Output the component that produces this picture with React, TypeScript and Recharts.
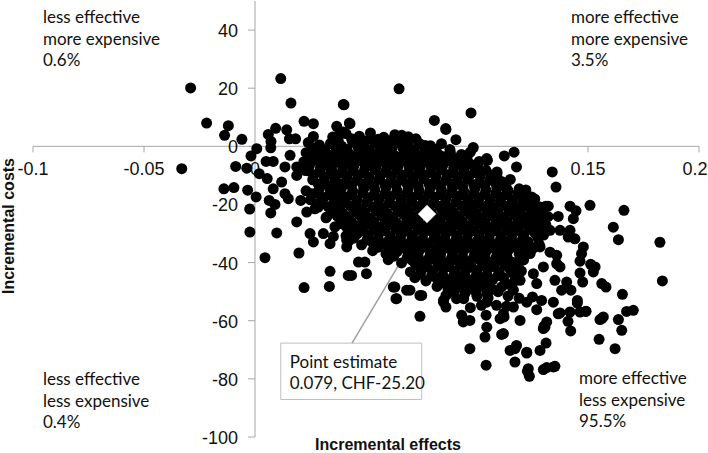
import React from 'react';
import { ScatterChart, Scatter, XAxis, YAxis, ReferenceLine, ReferenceArea } from 'recharts';

// ---- tick labels ----
const xTicks = [-0.1, -0.05, 0, 0.05, 0.1, 0.15, 0.2];
const yTicks = [40, 20, 0, -20, -40, -60, -80, -100];

// ---- quadrant texts ----
const quadTopLeft = ['less effective', 'more expensive', '0.6%'];
const quadTopRight = ['more effective', 'more expensive', '3.5%'];
const quadBottomLeft = ['less effective', 'less expensive', '0.4%'];
const quadBottomRight = ['more effective', 'less expensive', '95.5%'];

// ---- point estimate ----
const pointEstimate = [[0.0775, -23.3]];
const estimateLines = ['Point estimate', '0.079, CHF-25.20'];

// ---- bootstrap replicates [incremental effect, incremental cost] ----
const outerLeft = [
  [-0.029, 20.1], [-0.0218, 8.0], [-0.012, 7.1], [-0.0137, 3.8], [-0.0059, 2.4], [-0.033, -7.7], [-0.0087, -6.9],
  [-0.014, -14.6], [-0.0095, -14.2], [-0.0033, -15.1], [-0.0024, -21.6], [-0.0023, -29.5], [0.0008, -0.8],
  [-0.0018, -3.3], [-0.0037, -7.5], [0.0005, -17.4], [0.0045, -38.3], [0.0098, -29.8], [0.0116, 23.3],
  [0.0162, 14.9], [0.0398, 14.4], [0.006, 4.1], [0.0093, 6.2], [0.0072, 1.7], [0.0143, 5.7], [0.0155, 2.6],
  [0.0183, 2.6], [0.0221, 8.6], [0.0263, 7.8], [0.0263, 3.4], [0.0368, 6.9], [0.0398, 4.9], [0.0428, 7.8],
  [0.0071, -0.5], [0.005, -5.2], [0.0082, -5.2], [0.0019, -9.4], [0.0055, -11.1], [0.0082, -14.6], [0.0064, -18.6],
  [0.0071, -22.9], [0.009, -20.0], [0.012, -12.3], [0.0135, -7.1], [0.0158, -3.1], [0.0135, -16.3], [0.015, -18.0],
  [0.0188, -7.1], [0.0188, -10.0], [0.0225, -8.3], [0.0245, -2.3], [0.0278, -4.8], [0.0308, -2.5], [0.0206, -18.6],
  [0.0188, -26.0], [0.0255, -16.3], [0.0285, -20.9], [0.0233, -22.6], [0.0248, -30.0], [0.0263, -32.9],
  [0.0308, -30.0], [0.0338, -33.5], [0.0198, -36.7], [0.0338, -43.0], [0.0221, -48.6], [0.0335, -48.2],
  [0.042, -44.4], [0.0345, -8.3], [0.0368, -3.7], [0.0308, -12.8], [0.0353, -17.4], [0.0323, -24.3], [0.039, -26.6],
  [0.0398, -18.6], [0.0413, -10.6], [0.0405, -1.4], [0.0368, -14.0], [0.0413, -32.3], [0.0353, -31.0],
];

const outerTop = [
  [0.0649, 19.8], [0.0401, 14.3], [0.0425, 8.0], [0.0973, 11.5], [0.0808, 8.9], [0.086, 5.8], [0.0905, 2.3],
  [0.0661, 3.8], [0.0983, -0.4], [0.1167, -2.0], [0.1123, -3.3], [0.1178, -7.1], [0.1044, -4.2], [0.0878, -1.1],
  [0.0725, 2.6], [0.0766, 0.3], [0.0533, 2.1], [0.0578, 2.1], [0.0473, 2.6], [0.0383, 4.9], [0.1088, -10.0],
  [0.1133, -14.6], [0.1246, -17.4], [0.1201, -16.3], [0.1269, -22.0], [0.0968, -19.7], [0.0435, -44.4],
  [0.0466, -39.8], [0.0495, -39.8], [0.0502, -43.8], [0.063, -48.4], [0.0698, -49.5], [0.0638, -52.4],
  [0.0743, -51.3], [0.0849, -53.0], [0.0413, -34.6], [0.0413, -27.8], [0.0859, 6.1], [0.109, -9.4], [0.1047, -4.8],
  [0.1, -7.1], [0.1227, -17.4], [0.1257, -18.6], [0.1287, -23.2],
];

const outerRight = [
  [0.1339, -8.8], [0.1356, -14.0], [0.1509, -20.3], [0.1419, -20.6], [0.1446, -22.2], [0.1662, -22.0],
  [0.1366, -24.1], [0.1614, -27.8], [0.1637, -32.1], [0.1824, -33.0], [0.1835, -46.3], [0.1479, -34.6],
  [0.1464, -39.5], [0.1512, -40.6], [0.1532, -41.5], [0.1524, -43.2], [0.1562, -47.2], [0.1581, -48.4],
  [0.1655, -50.9], [0.1464, -43.6], [0.1476, -46.7], [0.1423, -49.5], [0.1452, -53.0], [0.1491, -56.7],
  [0.1419, -57.0], [0.141, -60.2], [0.1422, -63.5], [0.1569, -58.7], [0.1554, -59.6], [0.1637, -59.6],
  [0.1652, -63.3], [0.1674, -56.8], [0.1704, -56.4], [0.155, -66.4], [0.1622, -69.6], [0.1366, -57.6],
  [0.1314, -60.4], [0.1299, -62.7], [0.1311, -67.7], [0.1284, -70.2], [0.1224, -70.8], [0.1171, -69.6],
  [0.1171, -74.2], [0.1344, -75.9], [0.1299, -76.8], [0.1119, -64.4], [0.1194, -59.9], [0.1291, -53.0],
  [0.1344, -53.6], [0.1381, -49.5], [0.1351, -46.1], [0.1404, -46.7], [0.1471, -36.9], [0.1411, -31.2],
  [0.1441, -31.8], [0.1374, -28.9], [0.1329, -28.9], [0.1284, -27.8], [0.1254, -18.6], [0.1284, -20.9],
  [0.1321, -20.6], [0.1254, -25.5], [0.1359, -40.4], [0.1374, -41.5], [0.1299, -41.5], [0.1254, -43.8],
  [0.1269, -47.2], [0.1194, -46.1], [0.1164, -49.5], [0.1224, -53.6], [0.1164, -55.3], [0.1119, -57.6],
  [0.1284, -34.6], [0.1329, -36.4], [0.1239, -36.9], [0.1194, -39.2], [0.1359, -37.5], [0.1419, -28.9],
  [0.1434, -24.9],
];

const outerBottom = [
  [0.0743, -58.5], [0.0968, -69.6], [0.1041, -75.3], [0.1231, -76.5], [0.1236, -79.1], [0.1314, -76.1],
  [0.1351, -75.7], [0.1149, -70.2], [0.1178, -68.5], [0.1224, -71.1], [0.1111, -64.7], [0.1036, -65.6],
  [0.1044, -62.2], [0.1041, -58.1], [0.0931, -58.1], [0.0968, -59.9], [0.0938, -60.4], [0.1104, -59.3],
  [0.1122, -58.7], [0.1306, -62.2], [0.1562, -59.3], [0.086, -55.3], [0.0751, -51.3], [0.0635, -52.4],
  [0.0623, -48.4], [0.0683, -49.5], [0.0849, -53.6], [0.0908, -52.4], [0.1044, -53.6], [0.1088, -54.7],
  [0.1133, -55.0], [0.1269, -56.2], [0.1374, -57.3], [0.1464, -57.0], [0.1227, -77.4], [0.1302, -61.9],
  [0.1452, -53.9], [0.149, -56.8],
];

const coreUpper = [
  [0.035, 3.2], [0.041, 4.4], [0.047, 3.5], [0.052, 4.6], [0.058, 3.1], [0.063, 4.0], [0.069, 3.3],
  [0.024, 1.3], [0.029, 0.5], [0.034, 1.0], [0.039, 0.1], [0.044, 1.4], [0.049, 0.6], [0.054, 1.1], [0.059, 0.3],
  [0.064, 1.2], [0.069, 0.4], [0.074, 1.0], [0.079, 0.2], [0.084, 0.9],
  [0.023, -2.2], [0.028, -1.6], [0.033, -2.9], [0.038, -2.1], [0.043, -3.0], [0.048, -1.8], [0.053, -2.6],
  [0.058, -2.0], [0.063, -3.2], [0.068, -1.9], [0.073, -2.7], [0.078, -2.2], [0.083, -3.0], [0.088, -2.1],
  [0.093, -2.8], [0.097, -2.0],
  [0.022, -5.3], [0.027, -4.8], [0.032, -6.0], [0.037, -5.2], [0.042, -5.9], [0.047, -4.9], [0.052, -5.7],
  [0.057, -5.1], [0.062, -6.2], [0.067, -5.0], [0.072, -5.8], [0.077, -5.3], [0.082, -6.0], [0.087, -4.9],
  [0.092, -5.6], [0.097, -6.1], [0.101, -5.2],
  [0.024, -8.4], [0.029, -8.9], [0.034, -7.9], [0.039, -9.1], [0.044, -8.3], [0.049, -9.0], [0.054, -8.1],
  [0.059, -8.8], [0.064, -8.2], [0.069, -9.3], [0.074, -8.4], [0.079, -8.9], [0.084, -8.0], [0.089, -9.1],
  [0.094, -8.5], [0.099, -9.0], [0.104, -8.2], [0.109, -8.8],
  [0.026, -11.5], [0.031, -12.0], [0.036, -11.1], [0.041, -12.4], [0.046, -11.6], [0.051, -12.1], [0.056, -11.3],
  [0.061, -12.2], [0.066, -11.4], [0.071, -12.0], [0.076, -11.1], [0.081, -12.3], [0.086, -11.6], [0.091, -12.0],
  [0.096, -11.2], [0.101, -12.4], [0.106, -11.5], [0.111, -12.1], [0.115, -11.4],
];

const coreMiddle = [
  [0.023, -15.3], [0.029, -14.6], [0.034, -15.1], [0.039, -14.3], [0.044, -15.4], [0.049, -14.5], [0.054, -15.0],
  [0.059, -14.2], [0.064, -15.2], [0.069, -14.7], [0.074, -15.3], [0.079, -14.4], [0.084, -15.0], [0.089, -14.3],
  [0.094, -15.4], [0.099, -14.6], [0.104, -15.1], [0.109, -14.4], [0.114, -15.2], [0.119, -14.6], [0.122, -15.0],
  [0.025, -18.4], [0.031, -17.6], [0.036, -18.2], [0.041, -17.4], [0.046, -18.5], [0.051, -17.7], [0.056, -18.1],
  [0.061, -17.3], [0.066, -18.3], [0.071, -17.6], [0.076, -18.4], [0.081, -17.5], [0.086, -18.0], [0.091, -17.2],
  [0.096, -18.3], [0.101, -17.7], [0.106, -18.2], [0.111, -17.4], [0.116, -18.4], [0.121, -17.6], [0.126, -18.1],
  [0.027, -21.5], [0.033, -20.8], [0.038, -21.3], [0.043, -20.4], [0.048, -21.6], [0.053, -20.9], [0.058, -21.2],
  [0.063, -20.5], [0.068, -21.4], [0.073, -20.7], [0.078, -21.5], [0.083, -20.6], [0.088, -21.1], [0.093, -20.4],
  [0.098, -21.6], [0.103, -20.8], [0.108, -21.3], [0.113, -20.5], [0.118, -21.4], [0.123, -20.7], [0.128, -21.2],
  [0.131, -20.6],
  [0.032, -24.6], [0.037, -23.9], [0.042, -24.4], [0.047, -23.6], [0.052, -24.7], [0.057, -23.8], [0.062, -24.3],
  [0.067, -23.5], [0.072, -24.5], [0.077, -23.7], [0.082, -24.6], [0.087, -23.8], [0.092, -24.2], [0.097, -23.5],
  [0.102, -24.6], [0.107, -23.9], [0.112, -24.4], [0.117, -23.6], [0.122, -24.5], [0.127, -23.8], [0.132, -24.2],
  [0.036, -27.7], [0.041, -27.0], [0.046, -27.5], [0.051, -26.7], [0.056, -27.8], [0.061, -27.0], [0.066, -27.4],
  [0.071, -26.6], [0.076, -27.6], [0.081, -26.9], [0.086, -27.7], [0.091, -26.8], [0.096, -27.3], [0.101, -26.6],
  [0.106, -27.8], [0.111, -27.0], [0.116, -27.5], [0.121, -26.7], [0.126, -27.6], [0.131, -27.0],
  [0.041, -30.8], [0.046, -30.1], [0.051, -30.6], [0.056, -29.7], [0.061, -30.9], [0.066, -30.0], [0.071, -30.5],
  [0.076, -29.8], [0.081, -30.7], [0.086, -29.9], [0.091, -30.8], [0.096, -30.0], [0.101, -30.4], [0.106, -29.7],
  [0.111, -30.8], [0.116, -30.1], [0.121, -30.6], [0.126, -29.8], [0.130, -30.5],
];

const coreLower = [
  [0.042, -32.8], [0.048, -33.9], [0.053, -33.1], [0.058, -33.6], [0.063, -32.7], [0.068, -33.8], [0.073, -33.0],
  [0.078, -33.5], [0.083, -32.8], [0.088, -33.9], [0.093, -33.1], [0.098, -33.6], [0.103, -32.9], [0.108, -33.8],
  [0.113, -33.0], [0.118, -33.5], [0.123, -32.8], [0.128, -33.7],
  [0.053, -35.9], [0.059, -37.0], [0.064, -36.2], [0.069, -36.8], [0.074, -35.8], [0.079, -37.0], [0.084, -36.1],
  [0.089, -36.7], [0.094, -35.9], [0.099, -36.9], [0.104, -36.2], [0.109, -36.6], [0.114, -35.8], [0.119, -37.0],
  [0.124, -36.3],
  [0.060, -39.0], [0.066, -40.1], [0.071, -39.3], [0.076, -39.8], [0.081, -39.0], [0.086, -40.1], [0.091, -39.2],
  [0.096, -39.7], [0.101, -39.0], [0.106, -40.0], [0.111, -39.3], [0.116, -39.9], [0.121, -39.1],
  [0.070, -43.2], [0.075, -42.4], [0.080, -42.9], [0.085, -42.0], [0.090, -43.1], [0.095, -42.3], [0.100, -42.8],
  [0.105, -42.1], [0.110, -43.2], [0.115, -42.4], [0.120, -42.9],
  [0.072, -45.2], [0.077, -46.3], [0.082, -45.5], [0.087, -46.0], [0.092, -45.1], [0.097, -46.2], [0.102, -45.4],
  [0.107, -45.9], [0.112, -45.2], [0.117, -46.3],
  [0.082, -48.2], [0.087, -49.3], [0.092, -48.5], [0.097, -49.0], [0.102, -48.1], [0.107, -49.2], [0.111, -48.4],
  [0.086, -51.3], [0.094, -52.4], [0.100, -51.6], [0.105, -52.1], [0.114, -51.5], [0.119, -52.3], [0.125, -51.8],
  [0.097, -55.5], [0.102, -54.7],
];

const coreFillUpper = [
  [0.0375, 2.0], [0.0435, 2.6], [0.0495, 1.8], [0.0555, 2.4], [0.0605, 1.9], [0.066, 2.5],
  [0.0265, -0.6], [0.0315, -1.2], [0.0365, -0.7], [0.0415, -1.1], [0.0465, -0.5], [0.0515, -1.3], [0.0565, -0.8],
  [0.0615, -1.0], [0.0665, -0.4], [0.0715, -1.2], [0.0765, -0.7], [0.0815, -1.1],
  [0.0255, -3.7], [0.0305, -4.3], [0.0355, -3.8], [0.0405, -4.2], [0.0455, -3.6], [0.0505, -4.4], [0.0555, -3.9],
  [0.0605, -4.1], [0.0655, -3.7], [0.0705, -4.3], [0.0755, -3.8], [0.0805, -4.2], [0.0855, -3.6], [0.0905, -4.3],
  [0.0955, -3.9],
  [0.0245, -6.8], [0.0295, -7.4], [0.0345, -6.9], [0.0395, -7.3], [0.0445, -6.7], [0.0495, -7.5], [0.0545, -7.0],
  [0.0595, -7.2], [0.0645, -6.8], [0.0695, -7.4], [0.0745, -6.9], [0.0795, -7.3], [0.0845, -6.7], [0.0895, -7.4],
  [0.0945, -7.0], [0.099, -7.2],
  [0.0265, -9.9], [0.0315, -10.5], [0.0365, -10.0], [0.0415, -10.4], [0.0465, -9.8], [0.0515, -10.6], [0.0565, -10.1],
  [0.0615, -10.3], [0.0665, -9.9], [0.0715, -10.5], [0.0765, -10.0], [0.0815, -10.4], [0.0865, -9.8], [0.0915, -10.5],
  [0.0965, -10.1], [0.1015, -10.3], [0.1065, -9.9],
  [0.0285, -13.0], [0.0335, -13.6], [0.0385, -13.1], [0.0435, -13.5], [0.0485, -12.9], [0.0535, -13.7], [0.0585, -13.2],
  [0.0635, -13.4], [0.0685, -13.0], [0.0735, -13.6], [0.0785, -13.1], [0.0835, -13.5], [0.0885, -12.9], [0.0935, -13.6],
  [0.0985, -13.2], [0.1035, -13.4], [0.1085, -13.0], [0.113, -13.5],
];

const coreFillMiddle = [
  [0.0275, -16.1], [0.0335, -16.7], [0.0385, -16.2], [0.0435, -16.6], [0.0485, -16.0], [0.0535, -16.8], [0.0585, -16.3],
  [0.0635, -16.5], [0.0685, -16.1], [0.0735, -16.7], [0.0785, -16.2], [0.0835, -16.6], [0.0885, -16.0], [0.0935, -16.7],
  [0.0985, -16.3], [0.1035, -16.5], [0.1085, -16.1], [0.1135, -16.6], [0.1185, -16.2],
  [0.0295, -19.2], [0.0355, -19.8], [0.0405, -19.3], [0.0455, -19.7], [0.0505, -19.1], [0.0555, -19.9], [0.0605, -19.4],
  [0.0655, -19.6], [0.0705, -19.2], [0.0755, -19.8], [0.0805, -19.3], [0.0855, -19.7], [0.0905, -19.1], [0.0955, -19.8],
  [0.1005, -19.4], [0.1055, -19.6], [0.1105, -19.2], [0.1155, -19.7], [0.1205, -19.3], [0.124, -19.6],
  [0.0345, -22.3], [0.0395, -22.9], [0.0445, -22.4], [0.0495, -22.8], [0.0545, -22.2], [0.0595, -23.0], [0.0645, -22.5],
  [0.0695, -22.7], [0.0745, -22.3], [0.0795, -22.9], [0.0845, -22.4], [0.0895, -22.8], [0.0945, -22.2], [0.0995, -22.9],
  [0.1045, -22.5], [0.1095, -22.7], [0.1145, -22.3], [0.1195, -22.8], [0.1245, -22.4], [0.1295, -22.7],
  [0.0385, -25.4], [0.0435, -26.0], [0.0485, -25.5], [0.0535, -25.9], [0.0585, -25.3], [0.0635, -26.1], [0.0685, -25.6],
  [0.0735, -25.8], [0.0785, -25.4], [0.0835, -26.0], [0.0885, -25.5], [0.0935, -25.9], [0.0985, -25.3], [0.1035, -26.0],
  [0.1085, -25.6], [0.1135, -25.8], [0.1185, -25.4], [0.1235, -25.9], [0.1295, -25.5],
  [0.0435, -28.5], [0.0485, -29.1], [0.0535, -28.6], [0.0585, -29.0], [0.0635, -28.4], [0.0685, -29.2], [0.0735, -28.7],
  [0.0785, -28.9], [0.0835, -28.5], [0.0885, -29.1], [0.0935, -28.6], [0.0985, -29.0], [0.1035, -28.4], [0.1085, -29.1],
  [0.1135, -28.7], [0.1185, -28.9], [0.1235, -28.5], [0.1285, -29.0],
];

const coreFillLower = [
  [0.0445, -31.6], [0.0505, -32.2], [0.0555, -31.7], [0.0605, -32.1], [0.0655, -31.5], [0.0705, -32.3], [0.0755, -31.8],
  [0.0805, -32.0], [0.0855, -31.6], [0.0905, -32.2], [0.0955, -31.7], [0.1005, -32.1], [0.1055, -31.5], [0.1105, -32.2],
  [0.1155, -31.8], [0.1205, -32.0], [0.1275, -31.6],
  [0.0555, -34.7], [0.0615, -35.3], [0.0665, -34.8], [0.0715, -35.2], [0.0765, -34.6], [0.0815, -35.4], [0.0865, -34.9],
  [0.0915, -35.1], [0.0965, -34.7], [0.1015, -35.3], [0.1065, -34.8], [0.1115, -35.2], [0.1165, -34.6], [0.1215, -35.3],
  [0.1255, -34.9],
  [0.0625, -37.8], [0.0685, -38.4], [0.0735, -37.9], [0.0785, -38.3], [0.0835, -37.7], [0.0885, -38.5], [0.0935, -38.0],
  [0.0985, -38.2], [0.1035, -37.8], [0.1085, -38.4], [0.1135, -37.9], [0.1205, -38.3],
  [0.0725, -40.9], [0.0775, -41.5], [0.0825, -41.0], [0.0875, -41.4], [0.0925, -40.8], [0.0975, -41.6], [0.1025, -41.1],
  [0.1075, -41.3], [0.1125, -40.9], [0.1185, -41.4],
  [0.0745, -44.0], [0.0795, -44.6], [0.0845, -44.1], [0.0895, -44.5], [0.0945, -43.9], [0.0995, -44.7], [0.1045, -44.2],
  [0.1095, -44.4], [0.1165, -44.0],
  [0.0845, -47.0], [0.0895, -47.6], [0.0945, -47.1], [0.0995, -47.5], [0.1045, -46.9], [0.1135, -47.4],
  [0.0895, -50.1], [0.0945, -50.7], [0.0995, -50.2], [0.1045, -50.6], [0.1095, -50.0],
];

// ---- annotation anchors (data coords) ----
const boxCorners = { x1: 0.0116, x2: 0.0751, y1: -87.1, y2: -67.7 };
const leader = [[0.0437, -67.7], [0.0757, -26.8]];
const xDomain = [-0.1, 0.2];
const yDomain = [-100, 50];

const toPts = (arr: number[][]) => arr.map(([x, y]) => ({ x, y }));
const replicates = toPts([
  ...outerLeft, ...outerTop, ...outerRight, ...outerBottom,
  ...coreUpper, ...coreMiddle, ...coreLower,
  ...coreFillUpper, ...coreFillMiddle, ...coreFillLower,
]);
const estimate = toPts(pointEstimate);
const xAxisLine = [{ x: xDomain[0], y: 0 }, { x: xDomain[1], y: 0 }];
const yAxisLine = [{ x: 0, y: yDomain[1] }, { x: 0, y: yDomain[0] }];
const xTickPts = xTicks.map((t) => ({ x: t, y: 0 }));
const yTickPts = yTicks.map((t) => ({ x: 0, y: t }));

const W = 708;
const AXIS_GRAY = '#a6a6a6';
const TICK_FONT = '"Liberation Sans", Arial, sans-serif';
const NOTE_FONT = 'Lato, "Noto Sans", sans-serif';

const Nothing = () => <g />;
const BlackDot = (p: any) => <circle cx={p.cx} cy={p.cy} r={5.5} fill="#000" />;
const Diamond = (p: any) => {
  const s = 9;
  return (
    <polygon
      points={`${p.cx},${p.cy - s} ${p.cx + s},${p.cy} ${p.cx},${p.cy + s} ${p.cx - s},${p.cy}`}
      fill="#fff"
      stroke="#9a9a9a"
      strokeWidth={1}
    />
  );
};

const XTick = (p: any) => {
  const v = p.payload ? p.payload.x : 0;
  const lx = Math.min(p.cx, W - 13);
  return (
    <g>
      <line x1={p.cx} x2={p.cx} y1={p.cy} y2={p.cy + 6} stroke={AXIS_GRAY} strokeWidth={1} />
      <text x={lx} y={p.cy + 23} textAnchor="middle" dominantBaseline="central" fontFamily={TICK_FONT} fontSize={18} fill="#111">
        {String(v)}
      </text>
    </g>
  );
};

const YTick = (p: any) => {
  const v = p.payload ? p.payload.y : 0;
  return (
    <g>
      <line x1={p.cx - 7} x2={p.cx} y1={p.cy} y2={p.cy} stroke={AXIS_GRAY} strokeWidth={1} />
      <text x={p.cx - 17} y={p.cy + 1} textAnchor="end" dominantBaseline="central" fontFamily={TICK_FONT} fontSize={18} fill="#111">
        {String(v)}
      </text>
    </g>
  );
};

const LeaderShape = (p: any) => {
  if (p.x1 === undefined) return null;
  const { x1, y1, x2, y2 } = p;
  const ang = Math.atan2(y2 - y1, x2 - x1);
  const L = 7, Wd = 3;
  const bx = x2 - L * Math.cos(ang), by = y2 - L * Math.sin(ang);
  const px = -Math.sin(ang) * Wd, py = Math.cos(ang) * Wd;
  return (
    <g>
      <line x1={x1} y1={y1} x2={bx} y2={by} stroke="#a0a0a0" strokeWidth={1.5} />
      <polygon points={`${x2},${y2} ${bx + px},${by + py} ${bx - px},${by - py}`} fill="#a0a0a0" />
    </g>
  );
};

const BoxLabel = (props: any) => {
  const vb = props.viewBox || {};
  return (
    <g>
      {estimateLines.map((t, i) => (
        <text key={i} x={vb.x + 9} y={vb.y + 18 + i * 21} dominantBaseline="central" fontFamily={NOTE_FONT} fontSize={17} fill="#111">
          {t}
        </text>
      ))}
    </g>
  );
};

const Quad = ({ lines, left, top }: { lines: string[]; left: number; top: number }) => (
  <div style={{ position: 'absolute', left, top, fontFamily: NOTE_FONT, fontSize: 17, lineHeight: '21.5px', color: '#111', whiteSpace: 'nowrap' }}>
    {lines.map((l, i) => <div key={i}>{l}</div>)}
  </div>
);

export default function App() {
  return (
    <div style={{ position: 'absolute', left: 0, top: 0, width: 708, height: 453, background: '#fff', overflow: 'hidden' }}>
      <ScatterChart width={708} height={453} margin={{ top: 1, right: 9, bottom: 16, left: 33 }}>
        <XAxis type="number" dataKey="x" domain={xDomain} hide />
        <YAxis type="number" dataKey="y" domain={yDomain} hide />
        <Scatter data={xAxisLine} line={{ stroke: AXIS_GRAY, strokeWidth: 1 }} lineType="joint" shape={Nothing} isAnimationActive={false} />
        <Scatter data={yAxisLine} line={{ stroke: AXIS_GRAY, strokeWidth: 1 }} lineType="joint" shape={Nothing} isAnimationActive={false} />
        <Scatter data={xTickPts} shape={XTick} isAnimationActive={false} />
        <Scatter data={yTickPts} shape={YTick} isAnimationActive={false} />
        <Scatter data={replicates} shape={BlackDot} isAnimationActive={false} />
        <Scatter data={estimate} shape={Diamond} isAnimationActive={false} />
        <ReferenceLine
          segment={[{ x: leader[0][0], y: leader[0][1] }, { x: leader[1][0], y: leader[1][1] }]}
          ifOverflow="visible"
          shape={LeaderShape}
        />
        <ReferenceArea
          x1={boxCorners.x1}
          x2={boxCorners.x2}
          y1={boxCorners.y1}
          y2={boxCorners.y2}
          fill="#fff"
          fillOpacity={1}
          stroke="#bfbfbf"
          strokeWidth={1}
          ifOverflow="visible"
          label={BoxLabel}
        />
      </ScatterChart>
      <Quad lines={quadTopLeft} left={43} top={6} />
      <Quad lines={quadTopRight} left={571} top={6} />
      <Quad lines={quadBottomLeft} left={43} top={368} />
      <Quad lines={quadBottomRight} left={579} top={367} />
      <div style={{ position: 'absolute', left: 388, top: 445, transform: 'translate(-50%, -50%)', fontFamily: TICK_FONT, fontWeight: 'bold', fontSize: 16, color: '#111', whiteSpace: 'nowrap' }}>
        Incremental effects
      </div>
      <div style={{ position: 'absolute', left: 9, top: 226, transform: 'translate(-50%, -50%) rotate(-90deg)', fontFamily: TICK_FONT, fontWeight: 'bold', fontSize: 16, color: '#111', whiteSpace: 'nowrap' }}>
        Incremental costs
      </div>
    </div>
  );
}
